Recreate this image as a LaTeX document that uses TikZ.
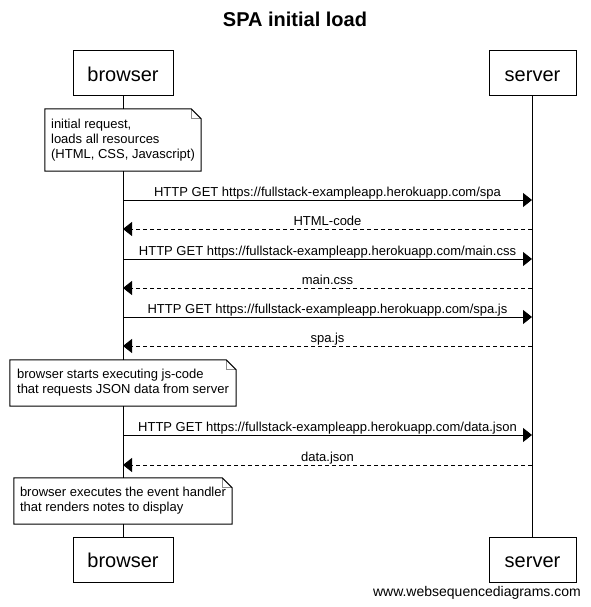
\documentclass[tikz,border=0pt]{standalone}
\usepackage{fontspec}
\setmainfont{Liberation Sans}
\usetikzlibrary{arrows.meta}
\begin{document}
\begin{tikzpicture}[x=1pt,y=-1pt,
  actor/.style={draw, line width=1pt, inner sep=0pt, text height=16pt, text depth=0pt,
    font=\fontsize{20}{24}\selectfont},
  notebox/.style={fill=white, inner sep=0pt, align=left, font=\fontsize{13}{15}\selectfont},
  noteline/.style={line width=1pt, line join=miter},
  foldline/.style={line width=1pt, draw=black!45},
  msg/.style={line width=1pt, -{Triangle[length=9pt,width=14pt]}},
  ret/.style={msg, dash pattern=on 4pt off 3pt},
  lbl/.style={anchor=base, yshift=4pt, inner sep=0pt, font=\fontsize{13}{15}\selectfont},
  life/.style={line width=1pt}]
\useasboundingbox (0,0) rectangle (590,607);

\node[anchor=base, inner sep=0pt, font=\bfseries\fontsize{20}{24}\selectfont] (title) at (295,27) {SPA initial load};

\node[actor, minimum width=100pt, minimum height=45pt] (bt) at (123,73.5) {browser};
\node[actor, minimum width=87pt, minimum height=45pt] (st) at (532.5,73.5) {server};
\node[actor, minimum width=100pt, minimum height=45pt] (bb) at (123,559.5) {browser};
\node[actor, minimum width=87pt, minimum height=45pt] (sb) at (532.5,559.5) {server};

\draw[life] (bt) -- (bb);
\draw[life] (st) -- (sb);

\node[notebox, minimum width=156pt, minimum height=62pt] (n1) at (123,140) {initial request,\\loads all resources\\(HTML, CSS, Javascript)};
\node[notebox, minimum width=226pt, minimum height=46pt] (n2) at (123,383) {browser starts executing js-code\\that requests JSON data from server};
\node[notebox, minimum width=218pt, minimum height=46pt] (n3) at (123,501) {browser executes the event handler\\that renders notes to display};
\foreach \n in {n1,n2,n3} {
  \draw[foldline] ([xshift=-10pt]\n.north east) -- ([xshift=-10pt,yshift=-10pt]\n.north east) -- ([yshift=-10pt]\n.north east);
  \draw[noteline] (\n.north west) -- ([xshift=-10pt]\n.north east) -- ([yshift=-10pt]\n.north east)
    -- (\n.south east) -- (\n.south west) -- cycle;
}

\coordinate (b1) at (123,200); \coordinate (s1) at (532,200);
\coordinate (b2) at (123,229); \coordinate (s2) at (532,229);
\coordinate (b3) at (123,259); \coordinate (s3) at (532,259);
\coordinate (b4) at (123,288); \coordinate (s4) at (532,288);
\coordinate (b5) at (123,317); \coordinate (s5) at (532,317);
\coordinate (b6) at (123,346); \coordinate (s6) at (532,346);
\coordinate (b7) at (123,435); \coordinate (s7) at (532,435);
\coordinate (b8) at (123,465); \coordinate (s8) at (532,465);

\draw[msg] (b1) -- node[midway, lbl] {HTTP GET https://fullstack-exampleapp.herokuapp.com/spa} (s1);
\draw[ret] (s2) -- node[midway, lbl] {HTML-code} (b2);
\draw[msg] (b3) -- node[midway, lbl] {HTTP GET https://fullstack-exampleapp.herokuapp.com/main.css} (s3);
\draw[ret] (s4) -- node[midway, lbl] {main.css} (b4);
\draw[msg] (b5) -- node[midway, lbl] {HTTP GET https://fullstack-exampleapp.herokuapp.com/spa.js} (s5);
\draw[ret] (s6) -- node[midway, lbl] {spa.js} (b6);
\draw[msg] (b7) -- node[midway, lbl] {HTTP GET https://fullstack-exampleapp.herokuapp.com/data.json} (s7);
\draw[ret] (s8) -- node[midway, lbl] {data.json} (b8);

\node[anchor=base east, inner sep=0pt, font=\fontsize{14}{16}\selectfont] (wsd) at (581,596) {www.websequencediagrams.com};
\end{tikzpicture}
\end{document}
